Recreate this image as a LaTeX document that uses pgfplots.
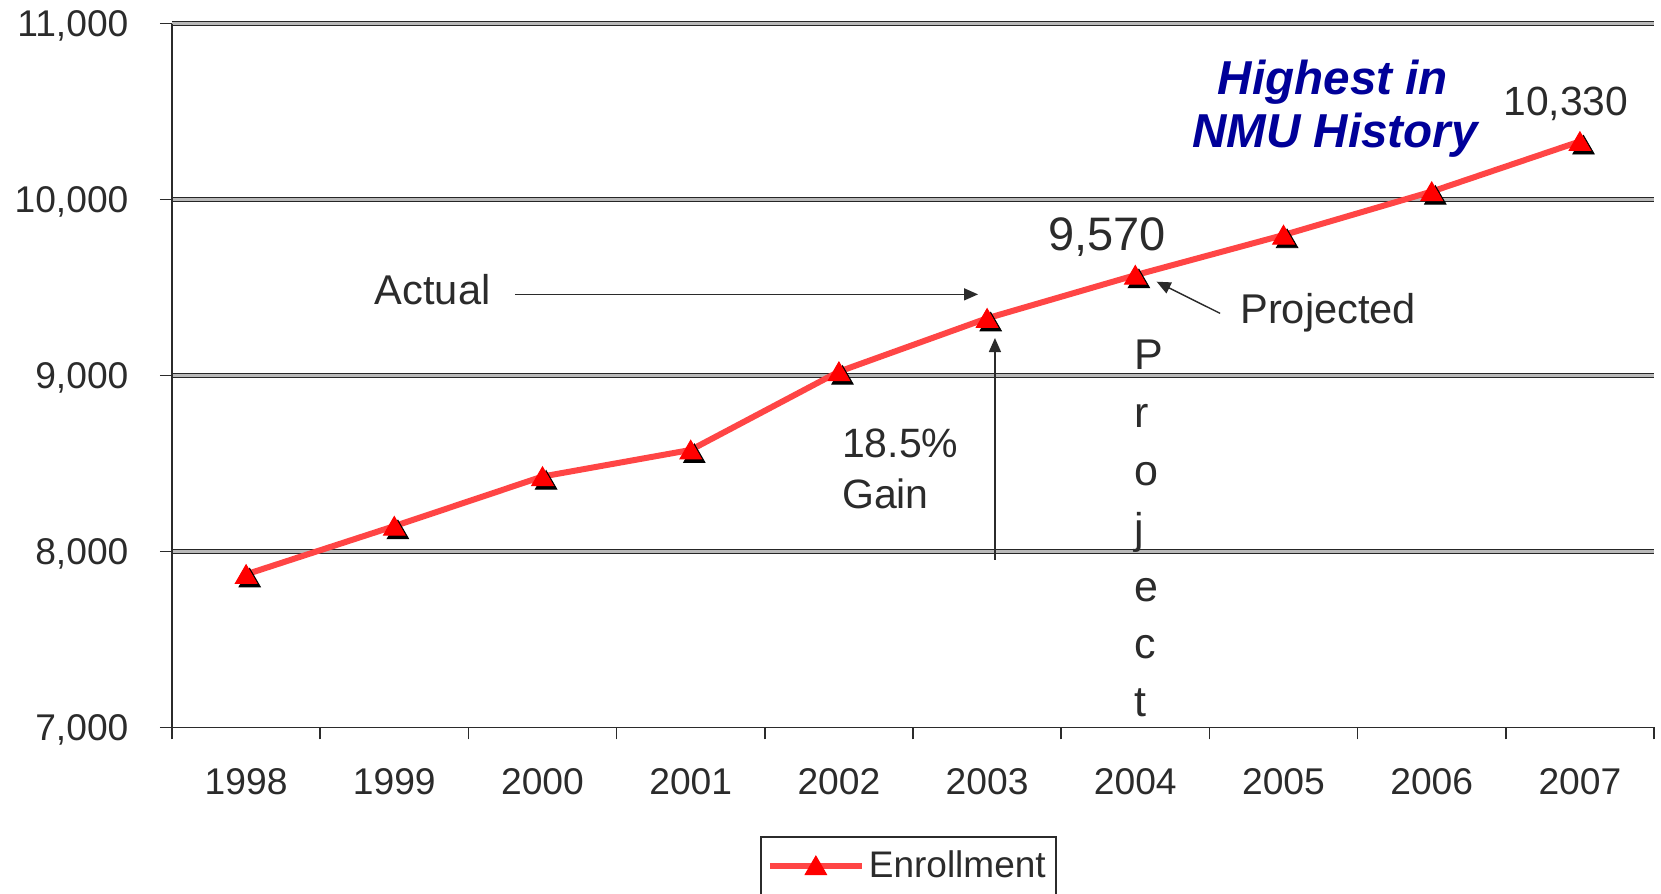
\documentclass[border=0pt]{standalone}
\usepackage{pgfplots}
\pgfplotsset{compat=1.18}
\usepackage{fontspec}
\setmainfont{Liberation Sans}
\usetikzlibrary{arrows.meta}
\definecolor{txt}{HTML}{2B2B2B}
\definecolor{redline}{HTML}{FF4545}
\definecolor{navy}{HTML}{000099}
\begin{document}
\begin{tikzpicture}
\path[use as bounding box] (-86pt,-83.25pt) rectangle (744.5pt,363.75pt);
\begin{axis}[
  at={(0pt,0pt)}, anchor=south west,
  scale only axis, width=741pt, height=352pt,
  xmin=-0.5, xmax=9.5, ymin=7000, ymax=11000,
  axis x line*=bottom, axis y line*=left,
  axis line style={-, draw=txt, line width=0.8pt},
  tick align=outside,
  major tick length=6pt,
  tick style={draw=txt, line width=0.8pt},
  xtick={-0.5,0.5,1.5,2.5,3.5,4.5,5.5,6.5,7.5,8.5,9.5},
  xticklabels={},
  extra x ticks={0,1,2,3,4,5,6,7,8,9},
  extra x tick labels={1998,1999,2000,2001,2002,2003,2004,2005,2006,2007},
  extra x tick style={tick style={draw=none}},
  ytick={8000,9000,10000,11000},
  extra y ticks={7000},
  extra y tick style={grid=none},
  scaled y ticks=false,
  ymajorgrids,
  major grid style={draw=black!85, line width=0.8pt, double=gray!55, double distance=1.1pt},
  /pgf/number format/.cd, 1000 sep={,}, assume math mode=true, /pgfplots/.cd,
  xticklabel style={anchor=base, yshift=-27.6pt, font=\fontsize{18.6}{22}\selectfont, text=txt},
  yticklabel style={anchor=base east, xshift=-15.6pt, yshift=-6.66pt, inner sep=0pt, font=\fontsize{18.6}{22}\selectfont, text=txt},
  legend style={at={(0.3968,-0.1541)}, anchor=north west, draw=txt, line width=0.8pt,
    font=\fontsize{18.5}{22}\selectfont, text=txt, inner xsep=3pt, inner ysep=5pt, cells={anchor=west}},
  legend image code/.code={\draw[mark repeat=2,mark phase=2,#1] plot coordinates {(0pt,0pt) (23pt,0pt) (46pt,0pt)};},
  clip=false,
]
\addplot[forget plot, only marks, mark=triangle*, mark size=6.2pt,
  mark options={fill=black, draw=black, xshift=1.8pt, yshift=-3.2pt}]
  coordinates {(0,7870) (1,8144) (2,8426) (3,8577) (4,9022) (5,9325) (6,9570) (7,9798) (8,10045) (9,10330)};
\addplot[redline, line width=3pt, mark=triangle*, mark size=6.2pt,
  mark options={fill=red, draw=red, line width=0.5pt, yshift=-1.4pt}]
  coordinates {(0,7870) (1,8144) (2,8426) (3,8577) (4,9022) (5,9325) (6,9570) (7,9798) (8,10045) (9,10330)};
\addlegendentry{Enrollment}

\node[anchor=base, font=\bfseries\itshape\fontsize{23.8}{28}\selectfont, text=navy, inner sep=0pt] at (axis cs:7.334,10594) {Highest in};
\node[anchor=base, font=\bfseries\itshape\fontsize{23.8}{28}\selectfont, text=navy, inner sep=0pt] at (axis cs:7.347,10298) {NMU History};
\node[anchor=base, font=\fontsize{20.4}{24}\selectfont, text=txt, inner sep=0pt] at (axis cs:8.906,10480) {10,330};
\node[anchor=base, font=\fontsize{23.5}{28}\selectfont, text=txt, inner sep=0pt] at (axis cs:5.809,9713) {9,570};
\node[anchor=base west, font=\fontsize{20.8}{25}\selectfont, text=txt, inner sep=0pt] at (axis cs:0.866,9406) {Actual};
\draw[txt, line width=0.7pt, -{Triangle[length=7pt,width=6pt]}] (axis cs:1.814,9461) -- (axis cs:4.939,9461);
\draw[txt, line width=0.7pt, -{Triangle[length=7pt,width=6pt]}] (axis cs:5.053,7952) -- (axis cs:5.053,9213);
\node[anchor=base west, font=\fontsize{20.5}{25}\selectfont, text=txt, inner sep=0pt] at (axis cs:4.019,8535) {18.5\%};
\node[anchor=base west, font=\fontsize{20.5}{25}\selectfont, text=txt, inner sep=0pt] at (axis cs:4.019,8245) {Gain};
\node[anchor=base west, font=\fontsize{20.8}{25}\selectfont, text=txt, inner sep=0pt] at (axis cs:6.706,9297) {Projected};
\draw[txt, line width=0.7pt, -{Triangle[length=7pt,width=6pt]}] (axis cs:6.572,9353) -- (axis cs:6.144,9533);
\node[anchor=north west, align=left, font=\fontsize{21.5}{28.9}\selectfont, text=txt, inner sep=0pt] at (axis cs:5.991,9202) {P\\r\\o\\j\\e\\c\\t};
\end{axis}
\end{tikzpicture}
\end{document}
